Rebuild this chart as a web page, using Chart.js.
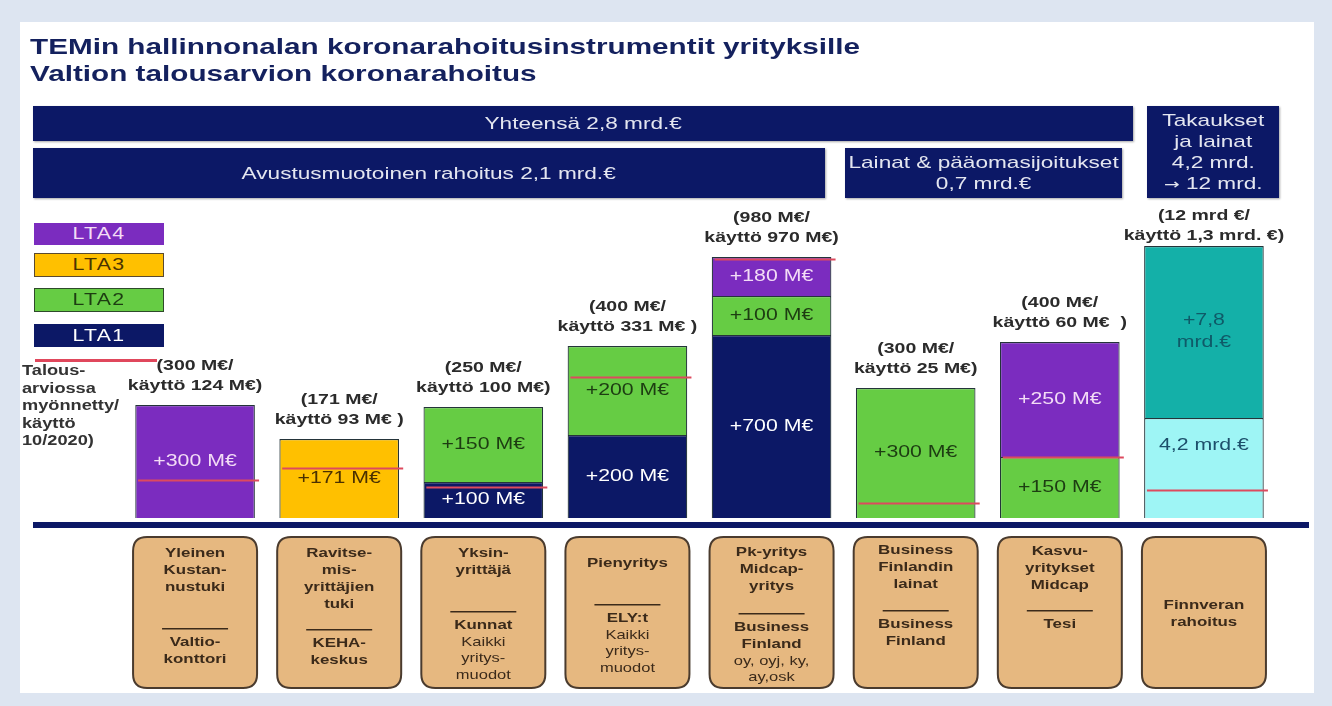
<!DOCTYPE html>
<html lang="fi">
<head>
<meta charset="utf-8">
<title>TEMin hallinnonalan koronarahoitusinstrumentit yrityksille</title>
<script src="https://cdn.jsdelivr.net/npm/chart.js@4.4.1/dist/chart.umd.min.js"></script>
<style>
  html, body { margin: 0; padding: 0; }
  body {
    width: 1332px; height: 706px; position: relative; overflow: hidden;
    background: #dde5f1;
    font-family: Arial, "Liberation Sans", sans-serif;
  }
  #panel { position: absolute; left: 20px; top: 22px; width: 1294px; height: 671px; background: #fff; }
  #chart { position: absolute; left: 0; top: 0; }
  /* the slide was stretched 4:3 -> wide, so text is widened too */
  .sx { display: inline-block; transform: scaleX(1.33); }
  .title {
    position: absolute; left: 30px; top: 33px; white-space: nowrap;
    color: #14215e; font-weight: bold; font-size: 22px; line-height: 27px;
    transform: scaleX(1.35); transform-origin: left top;
  }
  .hdr {
    position: absolute; background: #0c1866; color: #e4e6f0;
    font-size: 17px; line-height: 21px; text-align: center;
    display: flex; align-items: center; justify-content: center;
    box-shadow: 1px 1px 2px rgba(0, 0, 0, 0.35);
  }
  .arrow { font-family: "DejaVu Sans", sans-serif; font-size: 14px; }
  .lg {
    position: absolute; left: 34px; width: 130px; box-sizing: border-box;
    font-size: 16px; letter-spacing: 1px; text-align: center;
    display: flex; align-items: center; justify-content: center;
  }
  .note {
    position: absolute; left: 22px; top: 362px; white-space: nowrap;
    font-size: 14px; font-weight: bold; line-height: 17.5px; color: #333;
    transform: scaleX(1.3); transform-origin: left top;
  }
</style>
</head>
<body>
<div id="panel"></div>
<canvas id="chart" width="1332" height="706"></canvas>

<div class="title">TEMin hallinnonalan koronarahoitusinstrumentit yrityksille<br>Valtion talousarvion koronarahoitus</div>

<div class="hdr" style="left:33px; top:106px; width:1100px; height:35px;"><span class="sx">Yhteensä 2,8 mrd.€</span></div>
<div class="hdr" style="left:33px; top:148px; width:792px; height:50px;"><span class="sx">Avustusmuotoinen rahoitus 2,1 mrd.€</span></div>
<div class="hdr" style="left:845px; top:148px; width:277px; height:50px;"><span class="sx">Lainat &amp; pääomasijoitukset<br>0,7 mrd.€</span></div>
<div class="hdr" style="left:1147px; top:106px; width:132px; height:92px;"><span class="sx">Takaukset<br>ja lainat<br>4,2 mrd.<br><span class="arrow">→</span> 12 mrd.</span></div>

<div class="lg" style="top:223px; height:22px; background:#7b2cbf; color:#f3dcf6;"><span class="sx">LTA4</span></div>
<div class="lg" style="top:253px; height:24px; background:#ffc000; color:#4a3300; border:1.5px solid #5a4a30;"><span class="sx">LTA3</span></div>
<div class="lg" style="top:288px; height:24px; background:#66cc44; color:#1d3d12; border:1.5px solid #2e4a2a;"><span class="sx">LTA2</span></div>
<div class="lg" style="top:324px; height:23px; background:#0c1866; color:#ffffff;"><span class="sx">LTA1</span></div>
<div style="position:absolute; left:35px; top:359px; width:122px; height:3px; background:#e0475c;"></div>
<div class="note">Talous-<br>arviossa<br>myönnetty/<br>käyttö<br>10/2020)</div>

<script>
// TEMin koronarahoitus - stacked bars per instrument
// The slide is not drawn to scale, so bar heights are read off the picture (not M€)

const categories = [
  "Yleinen kustannustuki", "Ravitsemisyrittäjien tuki", "Yksinyrittäjä", "Pienyritys",
  "Pk-yritys Midcap-yritys", "Business Finlandin lainat", "Kasvuyritykset Midcap", "Finnveran rahoitus",
];

// segment heights as drawn on the slide
const lta1Height = [null, null, 36, 83, 183, null, null, null];
const lta2Height = [null, null, 75, 89, 39, 130, 61, null];
const lta3Height = [null, 79, null, null, null, null, null, null];
const lta4Height = [113, null, null, null, 39, null, 115, null];
const finnveraBaseHeight = [null, null, null, null, null, null, null, 100];
const finnveraTopHeight = [null, null, null, null, null, null, null, 172];
// red line = budget used 10/2020
const usageHeight = [38, 50, 31, 141, 259, 15, 61, 28];

// texts inside the segments
const lta1Labels = [null, null, "+100 M€", "+200 M€", "+700 M€", null, null, null];
const lta2Labels = [null, null, "+150 M€", "+200 M€", "+100 M€", "+300 M€", "+150 M€", null];
const lta3Labels = [null, "+171 M€", null, null, null, null, null, null];
const lta4Labels = ["+300 M€", null, null, null, "+180 M€", null, "+250 M€", null];
const finnveraBaseLabels = [null, null, null, null, null, null, null, ["4,2 mrd.€"]];
const finnveraTopLabels = [null, null, null, null, null, null, null, ["+7,8", "mrd.€"]];

// budget / usage above each bar
const budgetLabels = [
  ["(300 M€/", "käyttö 124 M€)"],
  ["(171 M€/", "käyttö 93 M€ )"],
  ["(250 M€/", "käyttö 100 M€)"],
  ["(400 M€/", "käyttö 331 M€ )"],
  ["(980 M€/", "käyttö 970 M€)"],
  ["(300 M€/", "käyttö 25 M€)"],
  ["(400 M€/", "käyttö 60 M€  )"],
  ["(12 mrd €/", "käyttö 1,3 mrd. €)"],
];

// boxes under the axis
const categoryNames = [
  ["Yleinen", "Kustan-", "nustuki"],
  ["Ravitse-", "mis-", "yrittäjien", "tuki"],
  ["Yksin-", "yrittäjä"],
  ["Pienyritys"],
  ["Pk-yritys", "Midcap-", "yritys"],
  ["Business", "Finlandin", "lainat"],
  ["Kasvu-", "yritykset", "Midcap"],
  ["Finnveran", "rahoitus"],
];
const categoryAgencies = [
  ["Valtio-", "konttori"], ["KEHA-", "keskus"], ["Kunnat"], ["ELY:t"],
  ["Business", "Finland"], ["Business", "Finland"], ["Tesi"], [],
];
const categoryNotes = [
  [], [], ["Kaikki", "yritys-", "muodot"], ["Kaikki", "yritys-", "muodot"],
  ["oy, oyj, ky,", "ay,osk"], [], [], [],
];

const FONT = 'Arial, "Liberation Sans", sans-serif';
const STRETCH = 1.3;

function roundRect(ctx, x, y, w, h, r) {
  ctx.beginPath();
  ctx.moveTo(x + r, y);
  ctx.lineTo(x + w - r, y);
  ctx.quadraticCurveTo(x + w, y, x + w, y + r);
  ctx.lineTo(x + w, y + h - r);
  ctx.quadraticCurveTo(x + w, y + h, x + w - r, y + h);
  ctx.lineTo(x + r, y + h);
  ctx.quadraticCurveTo(x, y + h, x, y + h - r);
  ctx.lineTo(x, y + r);
  ctx.quadraticCurveTo(x, y, x + r, y);
  ctx.closePath();
}

// widened text, like the stretched slide
function wideText(ctx, txt, x, y, sx) {
  ctx.save();
  ctx.translate(x, y);
  ctx.scale(sx || STRETCH, 1);
  ctx.fillText(txt, 0, 0);
  ctx.restore();
}

// draws usage lines, segment texts, budget texts, the base line and the category boxes
const slidePlugin = {
  id: "slideLabels",
  afterDatasetsDraw(chart) {
    const ctx = chart.ctx;
    const y = chart.scales.y;
    const x = chart.scales.x;
    const zero = y.getPixelForValue(0);

    ctx.save();

    // red usage lines
    ctx.strokeStyle = "#dd4a5e";
    ctx.lineWidth = 2;
    usageHeight.forEach((v, i) => {
      const cx = x.getPixelForValue(i);
      const py = Math.round(y.getPixelForValue(v)) + 0.5;
      ctx.beginPath();
      ctx.moveTo(cx - 57, py);
      ctx.lineTo(cx + 64, py);
      ctx.stroke();
    });

    ctx.textAlign = "center";
    ctx.textBaseline = "middle";

    // segment labels
    const segs = [
      [0, lta1Labels, "#ffffff", 0],
      [1, lta2Labels, "#1d3d12", 0],
      [2, lta3Labels, "#4a3000", 0],
      [3, lta4Labels, "#f3dcf6", 0],
      [4, finnveraBaseLabels, "#1d4f6b", -22],
      [5, finnveraTopLabels, "#0f5a68", 0],
    ];
    ctx.font = "16px " + FONT;
    segs.forEach(([di, labels, color, shift]) => {
      const meta = chart.getDatasetMeta(di);
      meta.data.forEach((bar, i) => {
        const txt = labels[i];
        if (!txt) return;
        const p = bar.getProps(["x", "y", "base"], true);
        const lines = Array.isArray(txt) ? txt : [txt];
        const mid = (p.y + p.base) / 2 + shift;
        ctx.fillStyle = color;
        lines.forEach((l, k) => {
          wideText(ctx, l, p.x, mid + (k - (lines.length - 1) / 2) * 22, 1.33);
        });
      });
    });

    // budget labels above the bars
    ctx.font = "bold 15px " + FONT;
    ctx.fillStyle = "#2b2b2b";
    categories.forEach((c, i) => {
      const total = [lta1Height, lta2Height, lta3Height, lta4Height, finnveraBaseHeight, finnveraTopHeight]
        .reduce((s, arr) => s + (arr[i] || 0), 0);
      const top = y.getPixelForValue(total);
      const cx = x.getPixelForValue(i);
      const lift = i === categories.length - 1 ? 9 : 0;
      wideText(ctx, budgetLabels[i][0], cx, top - 39 + lift);
      wideText(ctx, budgetLabels[i][1], cx, top - 19 + lift);
    });

    // thick base line
    ctx.fillStyle = "#0c1866";
    ctx.fillRect(33, zero + 4, 1276, 6);

    // category boxes
    const boxTop = zero + 19;
    const boxH = 151;
    const nameStart = [16, 16, 16, 26, 15, 13, 14, 68];
    const sepAt = [91, 92, 74, 67, 76, 73, 73, null];
    categories.forEach((c, i) => {
      const cx = x.getPixelForValue(i);
      const w = 124;
      roundRect(ctx, cx - w / 2, boxTop, w, boxH, 14);
      ctx.fillStyle = "#e6b880";
      ctx.fill();
      ctx.lineWidth = 2;
      ctx.strokeStyle = "#4a3b2e";
      ctx.stroke();

      ctx.fillStyle = "#3b2a1a";
      ctx.font = "bold 13px " + FONT;
      categoryNames[i].forEach((l, k) => {
        wideText(ctx, l, cx, boxTop + nameStart[i] + k * 17);
      });
      if (sepAt[i] !== null) {
        const sy = boxTop + sepAt[i];
        ctx.fillRect(cx - 33, sy, 66, 1.5);
        let ly = sy + 14;
        categoryAgencies[i].forEach((l) => {
          wideText(ctx, l, cx, ly);
          ly += 17;
        });
        ctx.font = "13px " + FONT;
        categoryNotes[i].forEach((l) => {
          wideText(ctx, l, cx, ly, 1.27);
          ly += 16.5;
        });
      }
    });
    ctx.restore();
  },
};

const barStyle = { borderColor: "#24343a", borderWidth: 1.2, barPercentage: 1, categoryPercentage: 0.83 };

new Chart(document.getElementById("chart"), {
  type: "bar",
  data: {
    labels: categories,
    datasets: [
      { label: "LTA1", data: lta1Height, backgroundColor: "#0c1866", ...barStyle },
      { label: "LTA2", data: lta2Height, backgroundColor: "#66cc44", ...barStyle },
      { label: "LTA3", data: lta3Height, backgroundColor: "#ffc000", ...barStyle },
      { label: "LTA4", data: lta4Height, backgroundColor: "#7b2cbf", ...barStyle },
      { label: "Takaukset 4,2 mrd.€", data: finnveraBaseHeight, backgroundColor: "#9ef5f5", ...barStyle },
      { label: "Takaukset +7,8 mrd.€", data: finnveraTopHeight, backgroundColor: "#14b0a8", ...barStyle },
    ],
  },
  options: {
    responsive: false,
    animation: false,
    devicePixelRatio: 1,
    layout: { padding: { left: 123, right: 56, top: 218, bottom: 188 } },
    scales: {
      x: { display: false, stacked: true },
      y: { display: false, stacked: true, min: 0, max: 300 },
    },
    plugins: {
      legend: { display: false },
      tooltip: { enabled: false },
    },
  },
  plugins: [slidePlugin],
});
</script>
</body>
</html>
